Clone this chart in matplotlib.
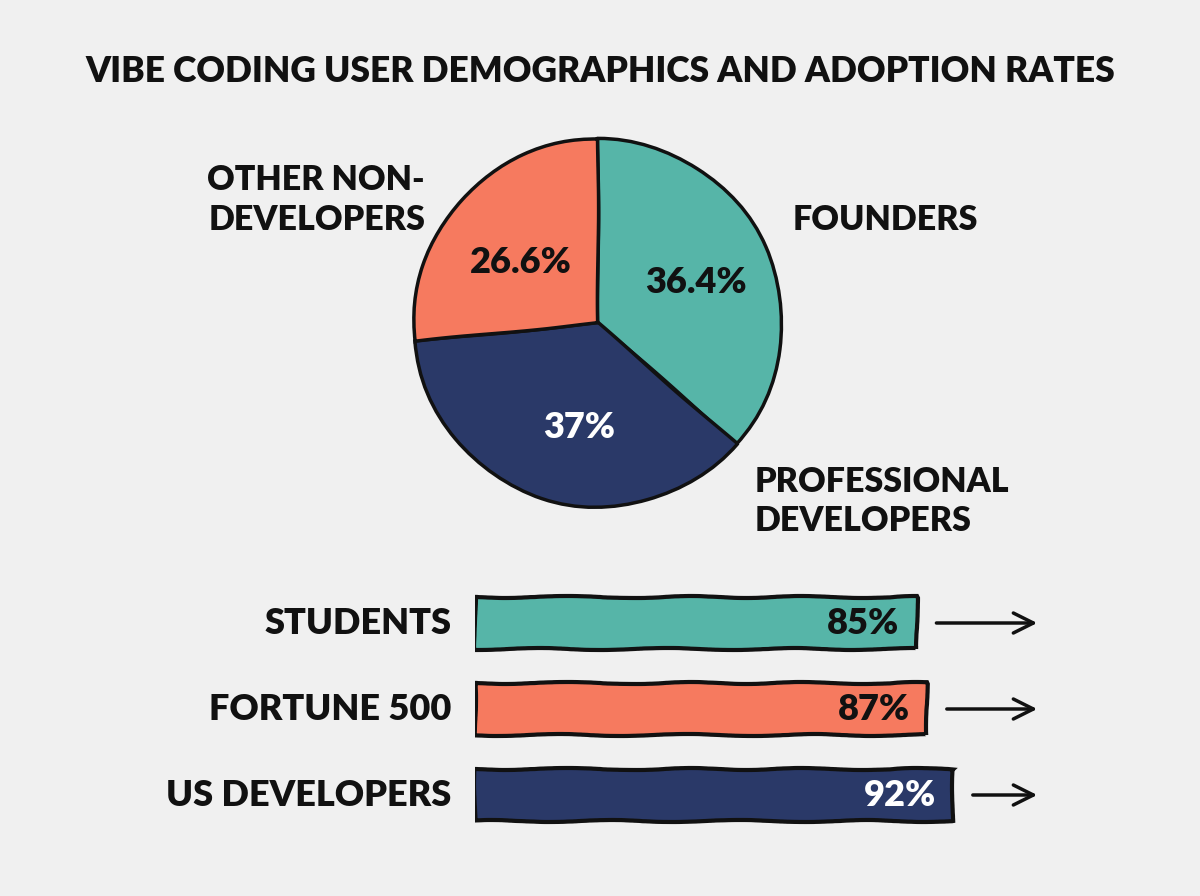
import matplotlib.pyplot as plt

# pie data
pie_labels = ['FOUNDERS', 'PROFESSIONAL\nDEVELOPERS', 'OTHER NON-\nDEVELOPERS']
pie_values = [36.4, 37.0, 26.6]
pie_text = ['36.4%', '37%', '26.6%']

# bar data
bar_labels = ['STUDENTS', 'FORTUNE 500', 'US DEVELOPERS']
bar_values = [85, 87, 92]

teal = '#56b5a8'
coral = '#f67a5f'
navy = '#2a3968'
bg = '#f0f0f0'
font = 'Lato'

fig = plt.figure(figsize=(12, 8.96), dpi=100, facecolor=bg)

fig.text(0.5, 1 - 72 / 896, 'VIBE CODING USER DEMOGRAPHICS AND ADOPTION RATES',
         ha='center', va='center', fontsize=25.5, fontweight='heavy',
         family=font, color='#111111')

# pie, centre ~ (598, 323) px, radius ~ 184 px
cx, cy, r = 598, 323, 184
ax = fig.add_axes([(cx - r) / 1200, (896 - cy - r) / 896, 2 * r / 1200, 2 * r / 896])
ax.set_facecolor(bg)
wedges, _ = ax.pie(pie_values, colors=[teal, navy, coral], startangle=90,
                   counterclock=False, radius=1,
                   wedgeprops=dict(edgecolor='#111111', linewidth=2.5))
for w in wedges:
    w.set_sketch_params(scale=0.6, length=200, randomness=2)
ax.set_xlim(-1, 1)
ax.set_ylim(-1, 1)
ax.set_aspect('equal')
ax.axis('off')

txt_pos = [(0.53, 0.22), (-0.1, -0.57), (-0.42, 0.33)]
txt_col = ['#111111', 'white', '#111111']
for (x, y), t, c in zip(txt_pos, pie_text, txt_col):
    ax.text(x, y, t, ha='center', va='center', fontsize=26, fontweight='heavy',
            family=font, color=c)

ax.text(1.56, 0.56, pie_labels[0], ha='center', va='center', fontsize=24.5,
        fontweight='heavy', family=font, color='#111111', linespacing=1.3)
ax.text(0.85, -0.97, pie_labels[1], ha='left', va='center', fontsize=24.5,
        fontweight='heavy', family=font, color='#111111', linespacing=1.3)
ax.text(-0.94, 0.67, pie_labels[2], ha='right', va='center', fontsize=24.5,
        fontweight='heavy', family=font, color='#111111', linespacing=1.3,
        multialignment='right')

# bars
x0, ppu = 475, 5.2
bx = fig.add_axes([x0 / 1200, (896 - 838) / 896, 100 * ppu / 1200, 258 / 896])
bx.set_facecolor('none')
ys = list(range(len(bar_values)))
bars = bx.barh(ys, bar_values, height=0.6, color=[teal, coral, navy],
               edgecolor='#111111', linewidth=3)
for b in bars:
    b.set_sketch_params(scale=1.0, length=150, randomness=3)
bx.set_xlim(0, 100)
bx.set_ylim(2.5, -0.5)
bx.axis('off')

arrow_end = (1040 - x0) / ppu
for y, v, lab, c in zip(ys, bar_values, bar_labels, ['#111111', '#111111', 'white']):
    bx.text(-4.5, y, lab, ha='right', va='center', fontsize=26,
            fontweight='heavy', family=font, color='#111111', clip_on=False)
    bx.text(v - 3.4, y, f'{v}%', ha='right', va='center', fontsize=26,
            fontweight='heavy', family=font, color=c, clip_on=False)
    bx.annotate('', xy=(arrow_end, y), xytext=(v + 3.2, y),
                arrowprops=dict(arrowstyle='->', lw=2.5, color='#111111',
                                mutation_scale=36),
                annotation_clip=False)

fig.savefig('out.png', dpi=100, facecolor=bg)
